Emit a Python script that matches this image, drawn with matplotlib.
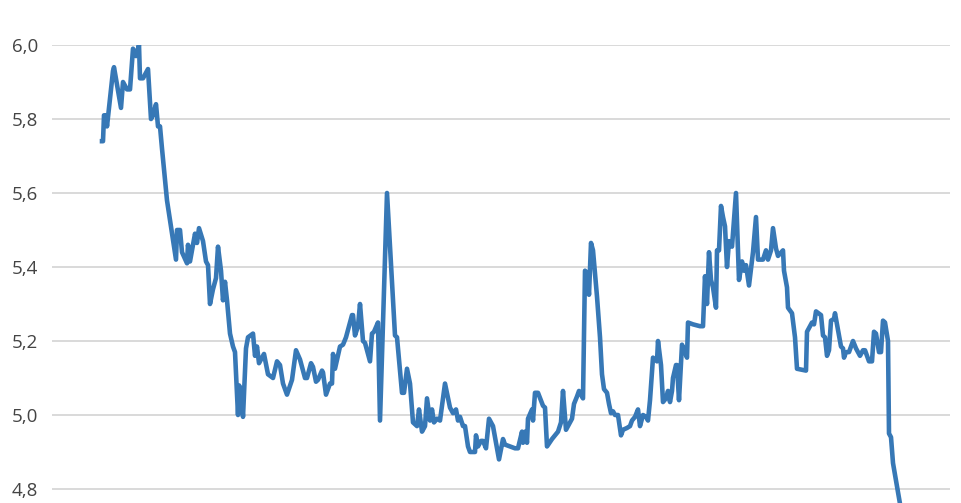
import matplotlib
matplotlib.use("Agg")
import matplotlib.pyplot as plt

# time index (days from first observation) and rate values
day = [1, 2, 3, 5, 6, 12, 13, 20, 22, 26, 29, 32, 35, 38, 39, 42, 47, 50, 52, 55,
       57, 59, 61, 66, 75, 76, 79, 81, 86, 87, 89, 92, 94, 96, 98, 102, 105, 107, 109, 112,
       115, 117, 120, 122, 124, 126, 129, 132, 134, 137, 138, 140, 142, 145, 147, 152, 154, 156, 158, 160,
       163, 167, 172, 176, 179, 182, 186, 191, 195, 199, 204, 206, 210, 212, 215, 217, 221, 222, 225, 229,
       231, 232, 234, 239, 242, 245, 251, 252, 254, 257, 259, 262, 264, 269, 271, 273, 277, 279, 286, 294,
       296, 301, 303, 306, 309, 312, 316, 318, 321, 324, 326, 329, 331, 333, 336, 339, 344, 349, 352, 355,
       357, 359, 362, 364, 367, 369, 374, 375, 377, 380, 382, 385, 388, 392, 396, 398, 402, 404, 409, 414,
       417, 421, 422, 424, 426, 427, 431, 432, 434, 437, 442, 444, 446, 451, 454, 457, 460, 462, 465, 467,
       471, 473, 476, 478, 482, 484, 486, 488, 490, 492, 496, 499, 501, 503, 506, 508, 510, 512, 514, 517,
       520, 522, 526, 529, 531, 534, 537, 539, 542, 545, 547, 549, 552, 556, 557, 560, 562, 565, 567, 569,
       571, 572, 575, 576, 578, 581, 584, 586, 587, 592, 599, 602, 604, 606, 608, 610, 612, 615, 616, 618,
       620, 622, 624, 626, 628, 631, 635, 638, 641, 643, 645, 648, 652, 655, 657, 662, 665, 667, 670, 672,
       675, 677, 682, 683, 686, 687, 691, 694, 696, 705, 706, 709, 711, 713, 715, 720, 722, 724, 726, 728,
       730, 733, 734, 737, 740, 742, 743, 745, 748, 752, 755, 759, 762, 764, 768, 771, 773, 775, 778, 780,
       782, 784, 787, 788, 790, 792, 799, 803]

rate = [5.74, 5.74, 5.81, 5.81, 5.78, 5.93, 5.94, 5.83, 5.90, 5.88, 5.88, 5.99, 5.97, 6.00, 5.91, 5.91, 5.935, 5.80, 5.81, 5.84,
        5.78, 5.78, 5.72, 5.58, 5.42, 5.50, 5.50, 5.44, 5.41, 5.46, 5.415, 5.46, 5.49, 5.465, 5.505, 5.47, 5.415, 5.405, 5.30, 5.34,
        5.37, 5.455, 5.39, 5.31, 5.36, 5.31, 5.22, 5.185, 5.17, 5.00, 5.08, 5.07, 4.995, 5.18, 5.21, 5.22, 5.16, 5.185, 5.14, 5.15,
        5.165, 5.11, 5.10, 5.145, 5.135, 5.085, 5.055, 5.095, 5.175, 5.15, 5.10, 5.10, 5.14, 5.13, 5.09, 5.095, 5.12, 5.115, 5.055, 5.085,
        5.085, 5.165, 5.125, 5.185, 5.19, 5.21, 5.27, 5.27, 5.215, 5.24, 5.30, 5.20, 5.195, 5.145, 5.22, 5.225, 5.25, 4.985, 5.60, 5.215,
        5.21, 5.06, 5.06, 5.125, 5.085, 4.98, 4.97, 5.015, 4.955, 4.97, 5.045, 4.985, 5.015, 4.98, 4.99, 4.985, 5.085, 5.02, 5.005, 5.015,
        4.985, 4.995, 4.97, 4.97, 4.915, 4.90, 4.90, 4.945, 4.915, 4.93, 4.93, 4.91, 4.99, 4.97, 4.91, 4.88, 4.935, 4.92, 4.915, 4.91,
        4.91, 4.955, 4.925, 4.955, 4.925, 4.99, 5.015, 4.985, 5.06, 5.06, 5.025, 5.02, 4.915, 4.935, 4.945, 4.955, 4.98, 5.065, 4.96, 4.97,
        4.99, 5.03, 5.05, 5.065, 5.045, 5.39, 5.385, 5.325, 5.465, 5.445, 5.32, 5.21, 5.11, 5.07, 5.06, 5.03, 5.005, 5.01, 5.00, 5.00,
        4.945, 4.96, 4.965, 4.97, 4.985, 4.995, 5.015, 4.97, 5.00, 4.995, 4.985, 5.04, 5.155, 5.145, 5.20, 5.135, 5.035, 5.045, 5.065, 5.035,
        5.065, 5.10, 5.135, 5.135, 5.04, 5.19, 5.17, 5.155, 5.25, 5.245, 5.24, 5.24, 5.375, 5.30, 5.44, 5.365, 5.345, 5.29, 5.445, 5.445,
        5.565, 5.535, 5.51, 5.40, 5.47, 5.455, 5.60, 5.365, 5.415, 5.39, 5.405, 5.35, 5.44, 5.535, 5.42, 5.42, 5.445, 5.42, 5.445, 5.505,
        5.45, 5.43, 5.445, 5.39, 5.345, 5.29, 5.275, 5.21, 5.125, 5.12, 5.225, 5.24, 5.25, 5.245, 5.28, 5.27, 5.215, 5.21, 5.16, 5.175,
        5.255, 5.26, 5.275, 5.23, 5.185, 5.18, 5.155, 5.17, 5.17, 5.20, 5.18, 5.16, 5.175, 5.175, 5.145, 5.145, 5.225, 5.22, 5.17, 5.17,
        5.255, 5.25, 5.20, 4.95, 4.94, 4.87, 4.76, 4.70]

yticks = [4.8, 5.0, 5.2, 5.4, 5.6, 5.8, 6.0]
ytick_labels = ["4,8", "5,0", "5,2", "5,4", "5,6", "5,8", "6,0"]

plt.rcParams['font.family'] = ['Open Sans', 'DejaVu Sans']

fig = plt.figure(figsize=(9.62, 5.03), dpi=100)
# the chart is cropped at the bottom, so the axes run past the figure edge
ax = fig.add_axes([52 / 962, -60 / 503, 898 / 962, 518 / 503])

ax.plot(day, rate, color="#3778b6", linewidth=3.3, solid_joinstyle="round")

ax.set_xlim(-49, 849)
ax.set_ylim(4.6, 6.0)
ax.set_yticks(yticks)
ax.set_yticklabels(ytick_labels)
ax.set_xticks([])
ax.grid(axis="y", color="#d0d0d0", linewidth=1.1)
ax.set_axisbelow(True)
for s in ax.spines.values():
    s.set_visible(False)
ax.tick_params(axis="y", length=0, pad=10, labelsize=13.5, labelcolor="#444444")

fig.savefig("out.png", dpi=100)
